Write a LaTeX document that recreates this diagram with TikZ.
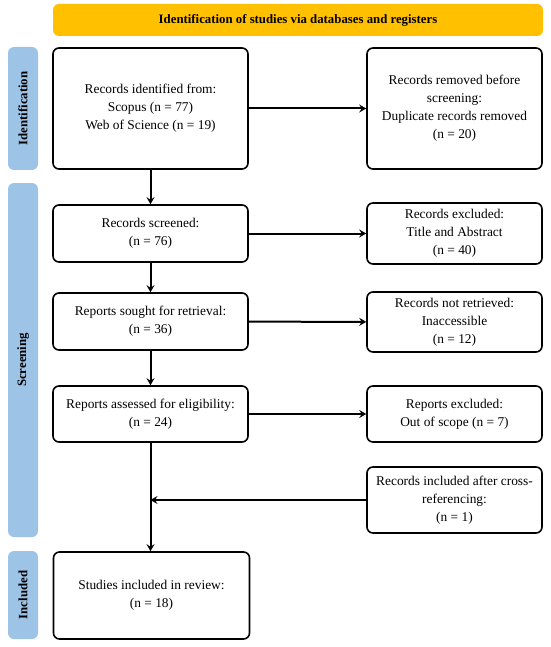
\documentclass[tikz,border=0pt]{standalone}
\usepackage{fontspec}
\setmainfont{Liberation Serif}
\usetikzlibrary{arrows.meta}
\definecolor{hdr}{HTML}{FFC000}
\definecolor{side}{HTML}{9DC3E6}
\begin{document}
\begin{tikzpicture}[x=1pt,y=-1pt,
  box/.style={draw=black,line width=1.6pt,rounded corners=6pt,align=center,
    font=\fontsize{13.4}{18}\selectfont,inner sep=0pt},
  lbox/.style={box,minimum width=195pt},
  rbox/.style={box,minimum width=175pt},
  sidelab/.style={fill=side,rounded corners=6pt,rotate=90,minimum height=30pt,
    inner sep=0pt,font=\fontsize{12.8}{15}\selectfont\bfseries},
  arr/.style={line width=2pt,-{Stealth[length=7pt,width=8pt,inset=2.5pt]}}]
\useasboundingbox (0,0) rectangle (550,647);
% header
\node[fill=hdr,rounded corners=6pt,minimum width=490pt,minimum height=32pt,inner sep=0pt,
  font=\fontsize{12.8}{15}\selectfont\bfseries] (hd) at (298,20)
  {Identification of studies via databases and registers};
% side labels
\node[sidelab,minimum width=123pt] (sid) at (23,108.5) {Identification};
\node[sidelab,minimum width=354pt] (ssc) at (23,360) {Screening};
\node[sidelab,minimum width=88pt] (sin) at (23,595) {Included};
% left column
\node[lbox,minimum height=121pt] (b1) at (150.5,108.5)
  {Records identified from:\\Scopus (n = 77)\\Web of Science (n = 19)};
\node[lbox,minimum height=57pt] (b2) at (150.5,233.5) {Records screened:\\(n = 76)};
\node[lbox,minimum height=57pt] (b3) at (150.5,321.5) {Reports sought for retrieval:\\(n = 36)};
\node[lbox,minimum height=56pt] (b4) at (150.5,414) {Reports assessed for eligibility:\\(n = 24)};
\node[box,minimum width=196pt,minimum height=87pt] (b5) at (151.5,595.5)
  {Studies included in review:\\(n = 18)};
% right column
\node[rbox,minimum height=121pt] (r1) at (454.5,108.5)
  {Records removed before\\screening:\\Duplicate records removed\\(n = 20)};
\node[rbox,minimum height=61pt] (r2) at (454.5,233.5)
  {Records excluded:\\Title and Abstract\\(n = 40)};
\node[rbox,minimum height=60pt] (r3) at (454.5,322)
  {Records not retrieved:\\Inaccessible\\(n = 12)};
\node[rbox,minimum height=56pt] (r4) at (454.5,414)
  {Reports excluded:\\Out of scope (n = 7)};
\node[rbox,minimum height=66pt] (r5) at (454.5,500)
  {Records included after cross-\\referencing:\\(n = 1)};
% connectors
\draw[arr] (b1) -- (b2);
\draw[arr] (b2) -- (b3);
\draw[arr] (b3) -- (b4);
\draw[arr] (b4.south) -- (b5.north -| b4.south);
\coordinate (m) at (b4.south |- r5.west);
\draw[arr] (r5.west) -- (m);
\draw[arr] (b1) -- (r1);
\draw[arr] (b2) -- (r2);
\draw[arr] (b3) -- (r3);
\draw[arr] (b4) -- (r4);
\end{tikzpicture}
\end{document}
